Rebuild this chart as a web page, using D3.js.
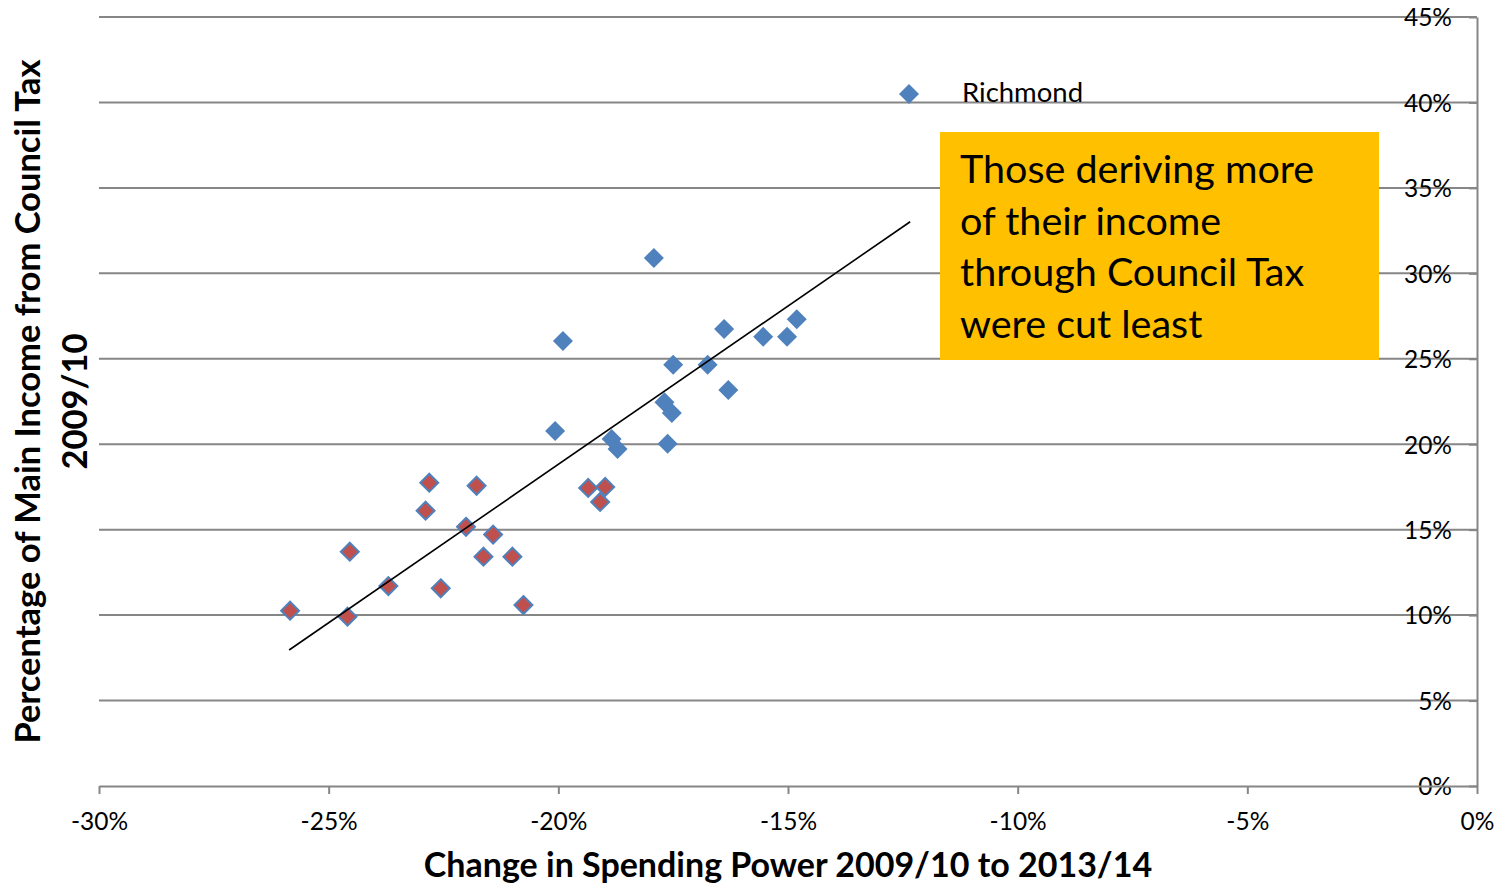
<!DOCTYPE html>
<html>
<head>
<meta charset="utf-8">
<script src="https://cdn.jsdelivr.net/npm/d3@7"></script>
<style>
  body { margin: 0; background: #fff; }
  svg { display: block; font-family: Lato, "Open Sans", sans-serif; }
  .grid line { stroke: #868686; stroke-width: 2; }
  .axis path, .axis line { stroke: #868686; stroke-width: 2; }
  .axis text { font-size: 24.5px; fill: #000; font-family: Lato, sans-serif; }
</style>
</head>
<body>
<svg id="chart" width="1499" height="884"></svg>
<script>
// Richmond series (blue diamonds), [spending power change %, council tax share %]
const richmondX = [-17.92, -19.90, -20.07, -16.39, -15.54, -15.02, -14.81, -17.50, -16.75, -16.30, -17.69, -17.53, -18.84, -18.71, -17.62];
const richmondY = [30.90, 26.04, 20.77, 26.74, 26.29, 26.29, 27.31, 24.65, 24.65, 23.17, 22.45, 21.83, 20.31, 19.72, 20.03];

// second series (red diamonds, blue outline)
const otherX = [-25.84, -24.59, -24.54, -23.70, -22.89, -22.81, -22.56, -22.01, -21.78, -21.63, -21.42, -21.00, -20.76, -19.35, -19.09, -18.98];
const otherY = [10.26, 9.91, 13.71, 11.70, 16.11, 17.75, 11.57, 15.17, 17.57, 13.42, 14.71, 13.42, 10.59, 17.44, 16.62, 17.50];

// trend line end points
const trendX = [-25.86, -12.34];
const trendY = [7.96, 33.02];

const xTicks = [-30, -25, -20, -15, -10, -5, 0];
const yTicks = [0, 5, 10, 15, 20, 25, 30, 35, 40, 45];

const legendLabel = "Richmond";
const noteLines = ["Those deriving more", "of their income", "through Council Tax", "were cut least"];
const xTitle = "Change in Spending Power 2009/10 to 2013/14";
const yTitle = ["Percentage of Main Income from Council Tax", "2009/10"];

const svg = d3.select("#chart");
const plotLeft = 99, plotRight = 1477, plotTop = 17, plotBottom = 786;

const x = d3.scaleLinear().domain([-30, 0]).range([plotLeft, plotRight]);
const y = d3.scaleLinear().domain([0, 45]).range([plotBottom, plotTop]);

const pct = (d) => `${d}%`;

// horizontal gridlines
svg.append("g")
  .attr("class", "grid")
  .selectAll("line")
  .data(yTicks.filter((d) => d > 0))
  .join("line")
  .attr("x1", plotLeft)
  .attr("x2", plotRight)
  .attr("y1", (d) => y(d))
  .attr("y2", (d) => y(d));

// y axis sits at x = 0%, labels drawn on its left
const yAxis = svg.append("g")
  .attr("class", "axis")
  .attr("transform", `translate(${plotRight},0)`)
  .call(d3.axisLeft(y).tickValues(yTicks).tickFormat(pct).tickSizeInner(8).tickSizeOuter(0).tickPadding(17));
yAxis.selectAll("text").attr("dy", "0.36em");

// x axis
svg.append("g")
  .attr("class", "axis")
  .attr("transform", `translate(0,${plotBottom})`)
  .call(d3.axisBottom(x).tickValues(xTicks).tickFormat(pct).tickSizeInner(8).tickSizeOuter(0).tickPadding(19));

// annotation box
const box = { x: 940, y: 132, w: 439, h: 228 };
svg.append("rect")
  .attr("x", box.x)
  .attr("y", box.y)
  .attr("width", box.w)
  .attr("height", box.h)
  .attr("fill", "#FFC000");

svg.append("g")
  .selectAll("text")
  .data(noteLines)
  .join("text")
  .attr("x", box.x + 20)
  .attr("y", (d, i) => box.y + 51 + i * 51.5)
  .attr("font-size", 39.5)
  .attr("fill", "#000")
  .text((d) => d);

const diamond = d3.symbol().type(d3.symbolDiamond2).size(255);

const blueData = richmondX.map((v, i) => ({ x: v, y: richmondY[i] }));
const redData = otherX.map((v, i) => ({ x: v, y: otherY[i] }));

svg.append("g")
  .selectAll("path")
  .data(blueData)
  .join("path")
  .attr("d", diamond)
  .attr("transform", (d) => `translate(${x(d.x)},${y(d.y)})`)
  .attr("fill", "#4F81BD");

svg.append("g")
  .selectAll("path")
  .data(redData)
  .join("path")
  .attr("d", d3.symbol().type(d3.symbolDiamond2).size(205))
  .attr("transform", (d) => `translate(${x(d.x)},${y(d.y)})`)
  .attr("fill", "#C0504D")
  .attr("stroke", "#4F81BD")
  .attr("stroke-width", 2);

// trend line
const trendData = trendX.map((v, i) => ({ x: v, y: trendY[i] }));
svg.append("path")
  .datum(trendData)
  .attr("fill", "none")
  .attr("stroke", "#000")
  .attr("stroke-width", 1.6)
  .attr("d", d3.line().x((d) => x(d.x)).y((d) => y(d.y)));

// legend
svg.append("path")
  .attr("d", diamond)
  .attr("transform", "translate(909,94)")
  .attr("fill", "#4F81BD");
svg.append("text")
  .attr("x", 962)
  .attr("y", 102)
  .attr("font-size", 27.5)
  .text(legendLabel);

// axis titles
svg.append("text")
  .attr("x", (plotLeft + plotRight) / 2)
  .attr("y", 877)
  .attr("text-anchor", "middle")
  .attr("font-size", 34)
  .attr("font-weight", "bold")
  .text(xTitle);

const yt = svg.append("text")
  .attr("transform", `translate(0,${(plotTop + plotBottom) / 2}) rotate(-90)`)
  .attr("text-anchor", "middle")
  .attr("font-size", 34.5)
  .attr("font-weight", "bold");
yt.selectAll("tspan")
  .data(yTitle)
  .join("tspan")
  .attr("x", 0)
  .attr("y", (d, i) => 40 + i * 47)
  .text((d) => d);
</script>
</body>
</html>
